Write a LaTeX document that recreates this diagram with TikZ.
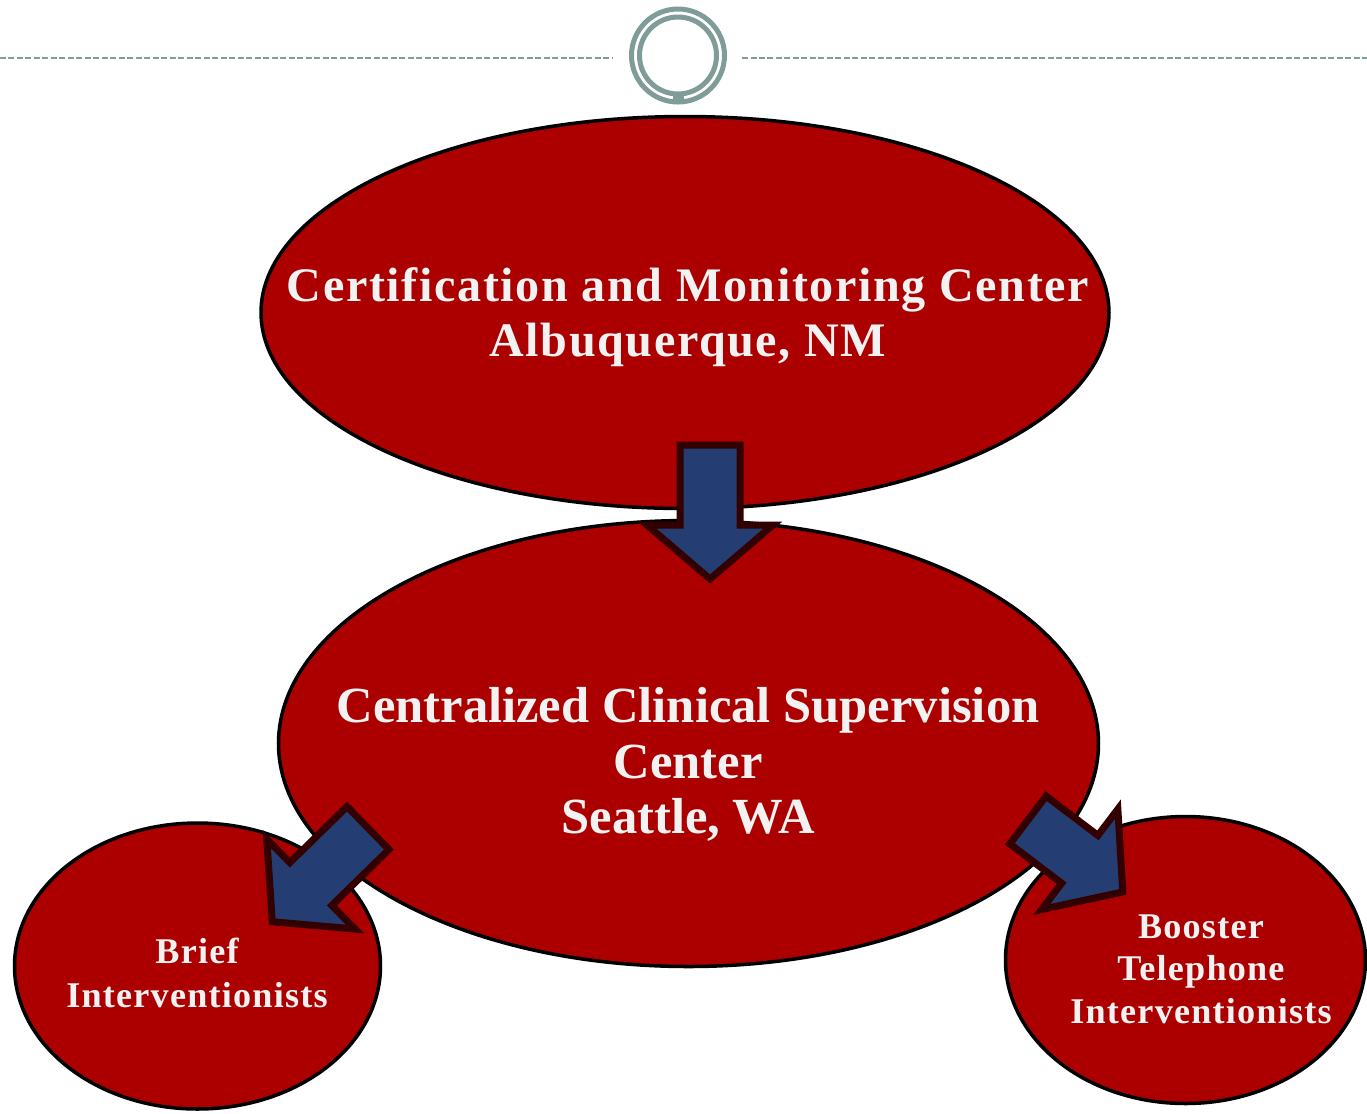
\documentclass[tikz,border=0pt]{standalone}
\usepackage{fontspec}
\setmainfont{Liberation Serif}
\newfontfamily\wideserif[LetterSpace=3.3]{Liberation Serif}
\usetikzlibrary{shapes.geometric, positioning}

\definecolor{siteRed}{RGB}{172,0,0}
\definecolor{arrowBlue}{RGB}{36,62,115}
\definecolor{arrowRim}{RGB}{50,0,0}
\definecolor{ringGray}{RGB}{127,156,152}
\definecolor{labelWhite}{RGB}{242,242,242}

% block arrow: tail point, direction, shaft length
\newcommand{\blockarrow}[3]{%
  \draw[flowarrow, shift={#1}, rotate=#2]
    (0,-0.30) -- ++(#3,0) -- ++(0,-0.33) -- ++(0.54,0.63)
    -- ++(-0.54,0.63) -- ++(0,-0.33) -- ++(-#3,0) -- cycle;}

\begin{document}
\begin{tikzpicture}[
        site/.style={ellipse, draw=black, line width=0.035cm, fill=siteRed, inner sep=0pt},
        sitetext/.style={text=labelWhite, align=center, inner sep=0pt, anchor=north},
        flowarrow/.style={draw=arrowRim, fill=arrowBlue, line width=0.07cm, line join=miter},
        ring/.style={draw=ringGray, line width=0.05cm},
    ]
    \useasboundingbox (0,0) rectangle (13.67,-11.13);

    % header rule with the ring ornament
    \coordinate (ruleL) at (0,-0.58);
    \coordinate (ruleR) at (13.67,-0.58);
    \coordinate (gapL) at (6.12,-0.58);
    \coordinate (gapR) at (7.42,-0.58);
    \draw[draw=ringGray, line width=0.02cm, dash pattern=on 0.06cm off 0.025cm] (ruleL) -- (gapL);
    \draw[draw=ringGray, line width=0.02cm, dash pattern=on 0.06cm off 0.025cm] (gapR) -- (ruleR);
    \node (ring) at (6.78,-0.555) {};
    \draw[ring] (ring.center) circle (0.465);
    \draw[ring] (ring.center) circle (0.385);
    \fill[ringGray] ([xshift=-0.055cm, yshift=-0.37cm]ring.center) rectangle ([xshift=0.055cm, yshift=-0.48cm]ring.center);

    % sites
    \node[site, minimum width=8.20cm, minimum height=4.46cm] (seattle) at (6.885,-7.435) {};
    \node[site, minimum width=8.48cm, minimum height=3.92cm] (abq) at (6.85,-3.125) {};
    \node[site, minimum width=3.66cm, minimum height=2.86cm] (brief) at (1.975,-9.66) {};
    \node[site, minimum width=3.60cm, minimum height=2.87cm] (booster) at (11.855,-9.60) {};

    \node[sitetext, font=\wideserif\bfseries\fontsize{13.7}{15.7}\selectfont] (abqtext) at (6.88,-2.67)
        {Certification and Monitoring Center\\Albuquerque, NM};
    \node[sitetext, font=\bfseries\fontsize{14.4}{15.7}\selectfont] (seattletext) at (6.88,-6.87)
        {Centralized Clinical Supervision\\Center\\Seattle, WA};
    \node[sitetext, font=\wideserif\bfseries\fontsize{10.3}{12.5}\selectfont] (brieftext) at (1.97,-9.37)
        {Brief\\Interventionists};
    \node[sitetext, font=\wideserif\bfseries\fontsize{10.3}{12.1}\selectfont] (boostertext) at (12.01,-9.14)
        {Booster\\Telephone\\Interventionists};

    % flow between the sites
    \blockarrow{(7.10,-4.45)}{-90}{0.80}
    \blockarrow{(3.68,-8.28)}{-135.6}{0.80}
    \blockarrow{(10.28,-8.20)}{-37.2}{0.65}
\end{tikzpicture}
\end{document}
